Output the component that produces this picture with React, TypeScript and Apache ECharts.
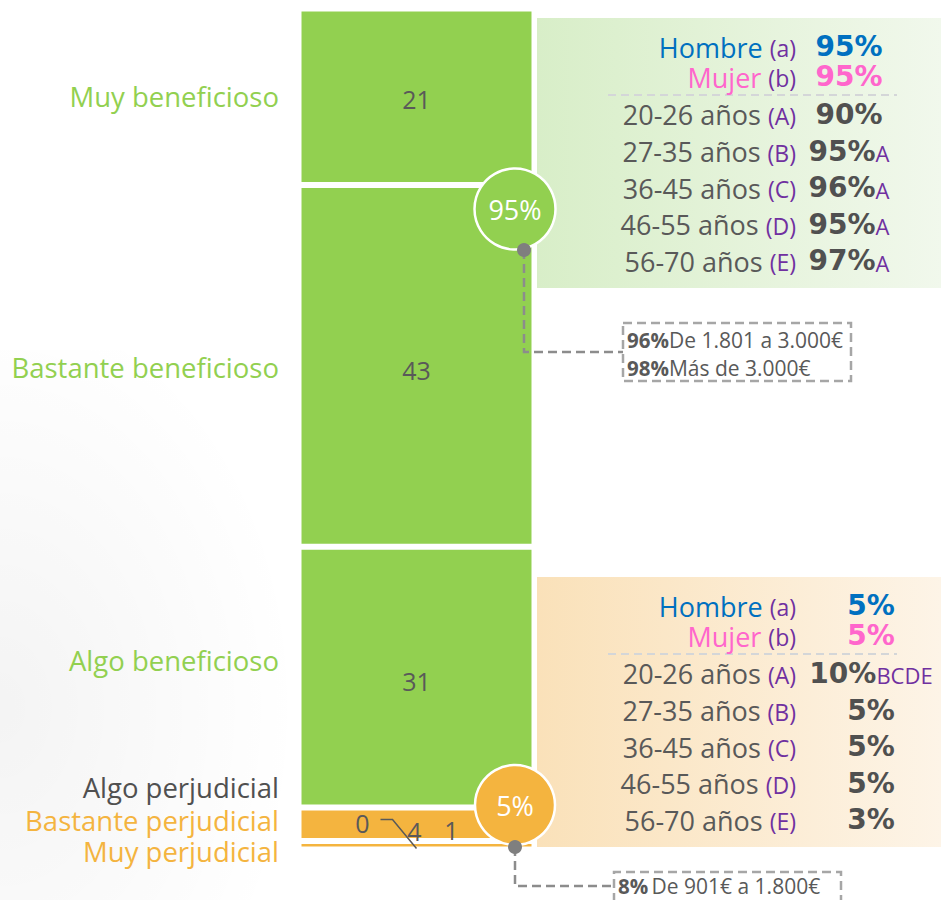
import React, { useEffect, useRef } from 'react';
import * as echarts from 'echarts';

// ---------- data ----------
const categories = ['Muy beneficioso', 'Bastante beneficioso', 'Algo beneficioso', 'Algo perjudicial', 'Bastante perjudicial', 'Muy perjudicial'];
const values = [21, 43, 31, 0, 4, 1];
const isBenefit = [true, true, true, false, false, false];

const groupLabels = ['Hombre', 'Mujer', '20-26 años', '27-35 años', '36-45 años', '46-55 años', '56-70 años'];
const groupCodes = ['(a)', '(b)', '(A)', '(B)', '(C)', '(D)', '(E)'];
const benefitPct = [95, 95, 90, 95, 96, 95, 97];
const benefitSig = ['', '', '', 'A', 'A', 'A', 'A'];
const harmPct = [5, 5, 10, 5, 5, 5, 3];
const harmSig = ['', '', 'BCDE', '', '', '', ''];

const benefitIncomePct = [96, 98];
const benefitIncomeLabels = ['De 1.801 a 3.000€', 'Más de 3.000€'];
const harmIncomePct = [8];
const harmIncomeLabels = ['De 901€ a 1.800€'];

// ---------- styles ----------
const GREEN = '#92D050';
const ORANGE = '#F4B43F';
const GREY_TXT = '#595959';
const PURPLE = '#7030A0';
const barColors = [GREEN, GREEN, GREEN, ORANGE, ORANGE, ORANGE];
const nameColors = [GREEN, GREEN, GREEN, '#505050', ORANGE, ORANGE];
const nameOffsets = [0, 2, -17, -20, -4, 6];
const valueOffsets: number[][] = [[0, 2], [0, 4], [0, 4], [-54, 16], [-2, 7], [35, -15]];
const groupColors = ['#0070C0', '#FF66CC', GREY_TXT, GREY_TXT, GREY_TXT, GREY_TXT, GREY_TXT];
const valueColors = ['#0070C0', '#FF66CC', '#505050', '#505050', '#505050', '#505050', '#505050'];
const rowOffsets = [28.7, 58.7, 96, 133, 169.5, 206, 242.5];
const FONT = 'Open Sans';
const BOLD_FONT = 'DejaVu Sans';

function panel(top: number, centerX: number, pct: number[], sig: string[], c0: string, c1: string) {
  const els: any[] = [];
  els.push({
    type: 'rect', z: 1,
    shape: { x: 537, y: top, width: 404, height: 270 },
    style: { fill: new echarts.graphic.LinearGradient(0, 0, 1, 0, [{ offset: 0, color: c0 }, { offset: 1, color: c1 }]) },
  });
  els.push({
    type: 'line', z: 2,
    shape: { x1: 608, y1: top + 77, x2: 897, y2: top + 77 },
    style: { stroke: '#D4D6D8', lineWidth: 2, lineDash: [8, 5] },
  });
  groupLabels.forEach((g, i) => {
    const y = top + rowOffsets[i];
    els.push({
      type: 'text', z: 3, x: 796, y,
      style: {
        text: `{g|${g} }{c|${groupCodes[i]}}`,
        align: 'right', verticalAlign: 'middle',
        rich: {
          g: { fill: groupColors[i], fontSize: 27, lineHeight: 28, fontFamily: FONT, verticalAlign: 'bottom' },
          c: { fill: PURPLE, fontSize: 23, lineHeight: 26, fontFamily: FONT, verticalAlign: 'bottom', padding: [0, 0, 1, 0] },
        },
      },
    });
    els.push({
      type: 'text', z: 3, x: centerX, y,
      style: {
        text: `{v|${pct[i]}%}` + (sig[i] ? `{s|${sig[i]}}` : ''),
        align: 'center', verticalAlign: 'middle',
        rich: {
          v: { fill: valueColors[i], fontSize: 28, lineHeight: 28, fontFamily: BOLD_FONT, fontWeight: 'bold', verticalAlign: 'bottom' },
          s: { fill: PURPLE, fontSize: 22, lineHeight: 25, fontFamily: FONT, verticalAlign: 'bottom', padding: [0, 0, 1, 0] },
        },
      },
    });
  });
  return els;
}

function incomeBox(box: number[], lineY0: number, dotX: number, dotY: number, pcts: number[], labels: string[], sep: string, firstLine: number, clipBottom: boolean) {
  const [x0, y0, x1, y1] = box;
  const els: any[] = [];
  const dash = { stroke: '#A6A6A6', lineWidth: 2.5, lineDash: [9, 5] };
  els.push({ type: 'polyline', z: 40, shape: { points: [[dotX, dotY], [dotX, lineY0], [x0, lineY0]] }, style: { ...dash, stroke: '#8C8C8C', fill: null } });
  els.push({
    type: 'polyline', z: 40,
    shape: { points: clipBottom ? [[x0, y1], [x0, y0], [x1, y0], [x1, y1]] : [[x0, y0], [x1, y0], [x1, y1], [x0, y1], [x0, y0]] },
    style: { ...dash, fill: null },
  });
  els.push({ type: 'circle', z: 60, shape: { cx: dotX, cy: dotY, r: 7 }, style: { fill: '#7F7F7F' } });
  pcts.forEach((p, i) => {
    els.push({
      type: 'text', z: 41, x: x0 + 4, y: y0 + firstLine + i * 28,
      style: {
        text: `{b|${p}%}${sep}{n|${labels[i]}}`,
        align: 'left', verticalAlign: 'middle',
        rich: {
          b: { fill: GREY_TXT, fontSize: 20.5, lineHeight: 24, fontFamily: FONT, fontWeight: 'bold' },
          n: { fill: GREY_TXT, fontSize: 21, lineHeight: 24, fontFamily: FONT },
        },
      },
    });
  });
  return els;
}

export default function App() {
  const ref = useRef<HTMLDivElement>(null);

  useEffect(() => {
    document.body.style.margin = '0';
    if (!ref.current) return;
    const chart = echarts.init(ref.current, null, { renderer: 'svg' });

    const benefitTotal = values.filter((_, i) => isBenefit[i]).reduce((a, b) => a + b, 0);
    const harmTotal = values.filter((_, i) => !isBenefit[i]).reduce((a, b) => a + b, 0);

    const mainSeries = categories.map((name, i) => ({
      type: 'bar', name, stack: 'total', barWidth: '100%', data: [values[i]], silent: true,
      itemStyle: { color: barColors[i], borderColor: '#ffffff', borderWidth: 3 },
      label: {
        show: true, position: 'inside', formatter: '{c}', fontFamily: FONT, fontSize: 25,
        color: GREY_TXT, textBorderWidth: 0, offset: valueOffsets[i],
      },
      z: 2,
    }));
    const nameSeries = categories.map((name, i) => ({
      type: 'bar', name: name, stack: 'names', barWidth: '100%', barGap: '-100%', data: [values[i]], silent: true,
      itemStyle: { color: 'rgba(0,0,0,0)', borderWidth: 0 },
      label: {
        show: true, position: 'left', distance: 19.5, formatter: '{a}', fontFamily: FONT, fontSize: 27.5,
        lineHeight: 30, color: nameColors[i], textBorderWidth: 0, offset: [0, nameOffsets[i]],
      },
      z: 3,
    }));

    const graphics: any[] = [
      {
        type: 'rect', z: 0, shape: { x: 0, y: 350, width: 400, height: 550 },
        style: {
          fill: new echarts.graphic.RadialGradient(0, 0.65, 0.75, [
            { offset: 0, color: 'rgba(0,0,0,0.045)' },
            { offset: 1, color: 'rgba(0,0,0,0)' },
          ]),
        },
      },
      ...panel(18, 849, benefitPct, benefitSig, '#D8EEC8', '#F1F8EC'),
      ...panel(577, 871, harmPct, harmSig, '#FAE1B9', '#FDF4E7'),
      ...incomeBox([623, 323, 851, 381], 352, 524, 250, benefitIncomePct, benefitIncomeLabels, '', 17, false),
      ...incomeBox([614, 872, 841, 902], 886, 515, 847, harmIncomePct, harmIncomeLabels, ' ', 14, true),
      {
        type: 'circle', z: 50, shape: { cx: 515, cy: 209, r: 40.5 },
        style: { fill: GREEN, stroke: '#ffffff', lineWidth: 2.5 },
      },
      {
        type: 'text', z: 51, x: 515, y: 209,
        style: { text: `${benefitTotal}%`, fill: '#ffffff', fontSize: 27, fontFamily: FONT, align: 'center', verticalAlign: 'middle' },
      },
      {
        type: 'circle', z: 50, shape: { cx: 515, cy: 805, r: 40 },
        style: { fill: ORANGE, stroke: '#ffffff', lineWidth: 2.5 },
      },
      {
        type: 'text', z: 51, x: 515, y: 805,
        style: { text: `${harmTotal}%`, fill: '#ffffff', fontSize: 27, fontFamily: FONT, align: 'center', verticalAlign: 'middle' },
      },
    ];

    chart.setOption({
      animation: false,
      backgroundColor: '#ffffff',
      grid: { left: 298.5, top: 8.5, width: 236, height: 841, containLabel: false },
      xAxis: { type: 'category', data: ['Total'], show: false },
      yAxis: { type: 'value', min: 0, max: 100, inverse: true, show: false },
      series: [...mainSeries, ...nameSeries],
      graphic: graphics,
    });

    // leader line for the zero-valued segment label, anchored via the chart scales
    const zeroTop = chart.convertToPixel({ gridIndex: 0 }, ['Total', values.slice(0, 3).reduce((a, b) => a + b, 0)]) as number[];
    const bottom = chart.convertToPixel({ gridIndex: 0 }, ['Total', values.reduce((a, b) => a + b, 0)]) as number[];
    chart.setOption({
      graphic: [
        ...graphics,
        {
          type: 'polyline', z: 30,
          shape: { points: [[zeroTop[0] - 36, zeroTop[1] + 12], [zeroTop[0] - 24, zeroTop[1] + 12], [bottom[0], bottom[1] - 1]] },
          style: { stroke: GREY_TXT, lineWidth: 1.5, fill: null },
        },
      ],
    });

    return () => chart.dispose();
  }, []);

  return <div ref={ref} style={{ width: 941, height: 900 }} />;
}
